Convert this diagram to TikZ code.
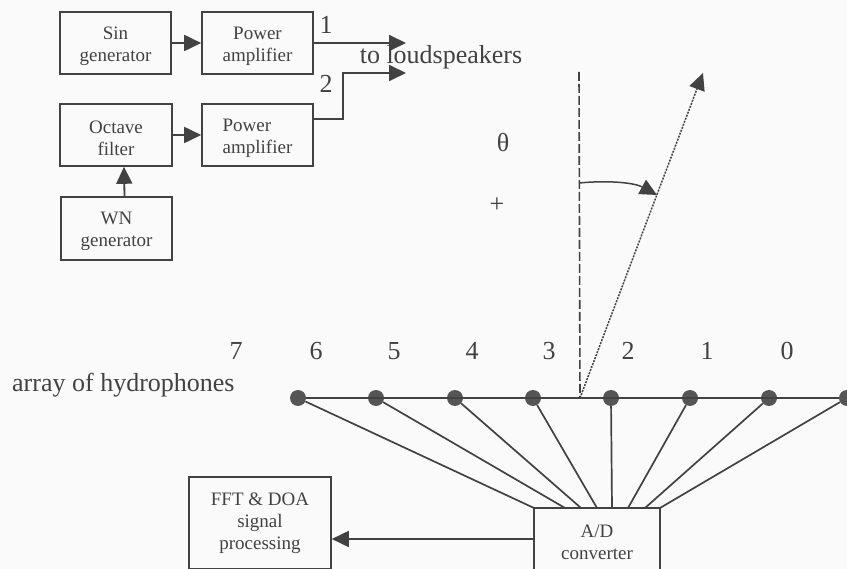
\documentclass[tikz,border=0pt]{standalone}
\usepackage{fontspec}
\setmainfont{Liberation Serif}
\usetikzlibrary{arrows.meta}
\definecolor{inkgray}{HTML}{424242}
\newcommand{\lowline}{\rule{0pt}{19pt}}

\tikzset{
  block/.style={draw=inkgray, line width=1.6pt, text=inkgray, align=center, inner sep=0pt,
    font=\fontsize{19}{22}\selectfont},
  biglabel/.style={text=inkgray, inner sep=0pt, font=\fontsize{26}{30}\selectfont},
  sensor/.style={circle, fill=inkgray!90, minimum size=16pt, inner sep=0pt},
  link/.style={draw=inkgray, line width=1.7pt},
  feed/.style={draw=inkgray, line width=1.8pt, -{Triangle[length=17pt,width=16pt]}},
}

\begin{document}
\begin{tikzpicture}[x=1pt, y=-1pt]
\useasboundingbox (0,0) rectangle (847,569);
\fill[black!2] (0,0) rectangle (847,569);

%--- Signal generation ---
\node[block, minimum width=111pt, minimum height=62pt] (sin) at (115.5,43) {\lowline Sin\\generator};
\node[block, minimum width=111pt, minimum height=62pt] (amp1) at (257.5,43) {\lowline Power\\amplifier};
\node[block, minimum width=112pt, minimum height=62pt] (oct) at (116,135) {\lowline Octave\\filter};
\node[block, minimum width=111pt, minimum height=62pt, align=left] (amp2) at (257.5,135) {\lowline Power\\amplifier};
\node[block, minimum width=111pt, minimum height=63pt] (wn) at (116.5,228.5) {\lowline WN\\generator};

\draw[feed] (sin) -- (amp1);
\draw[feed] (oct) -- (amp2);
\draw[feed] ([xshift=8pt]wn.north) -- ([xshift=8pt]oct.south);

% Outputs to the loudspeakers
\coordinate (out1) at (406,43);
\coordinate (out2) at (406,73);
\coordinate (start2) at (313,119);
\coordinate (bend2) at (343,119);
\draw[feed] (amp1.east) -- (out1);
\draw[feed] (start2) -- (bend2) |- (out2);
\node[biglabel] (one) at (326,25) {1};
\node[biglabel] (two) at (326,84) {2};
\node[biglabel] (speakers) at (441,57) {to loudspeakers};

%--- Look direction ---
\coordinate (centre) at (580,398);
\coordinate (normal) at (579,72);
\coordinate (steer) at (703,73);
\coordinate (swing) at (579,183);
\coordinate (swingend) at (657,195);
\draw[draw=inkgray, line width=1.6pt, dash pattern=on 9pt off 3pt] (normal) -- (centre);
\draw[draw=inkgray, line width=1.5pt, dash pattern=on 2pt off 1.2pt, -{Triangle[length=17pt,width=16pt]}] (centre) -- (steer);
\draw[feed, line width=1.5pt] (swing) .. controls (610,180) and (635,183) .. (swingend);
\node[biglabel] (theta) at (503,143) {θ};
\node[biglabel] (plus) at (497,205) {+};

%--- Hydrophone array ---
\node[biglabel, anchor=west] (array) at (12,385) {array of hydrophones};
\node[block, minimum width=126pt, minimum height=62pt] (adc) at (597,539) {\lowline A/D\\converter};
\node[block, minimum width=142pt, minimum height=92pt] (fft) at (260,523) {FFT \& DOA\\signal\\processing};

% Dots, numbers and wires down to the converter
\foreach \i/\xd/\xn/\xa/\lab in {7/298/236/534/7, 6/376/316/565/6, 5/455/394/581/5, 4/533/472/597/4,
    3/611/549/612/3, 2/690/628/628/2, 1/769/707/645/1, 0/847/787/660/0} {
  \node[sensor] (dot\i) at (\xd,398) {};
  \node[biglabel] (num\i) at (\xn,351) {\lab};
  \coordinate (pin\i) at (\xa,508);
  \draw[link] (dot\i) -- (pin\i);
}
\draw[link] (dot7) -- (dot0);

\draw[feed] (adc.west) -- (adc.west -| fft.east);
\end{tikzpicture}
\end{document}
